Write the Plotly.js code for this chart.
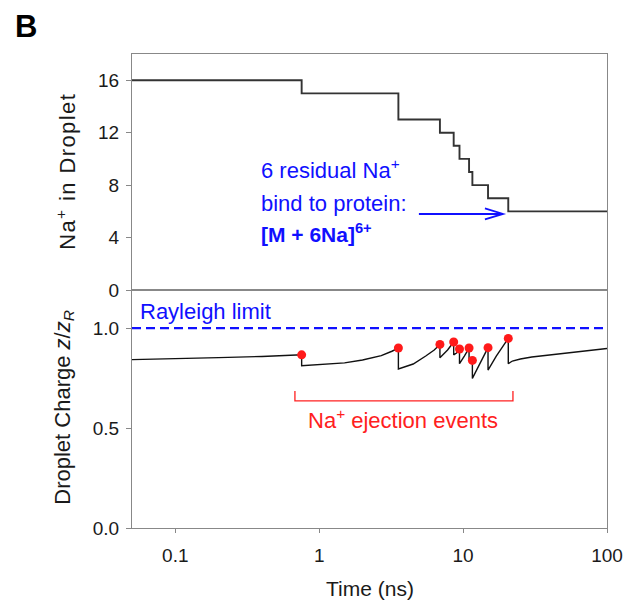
<!DOCTYPE html>
<html>
<head>
<meta charset="utf-8">
<script src="https://cdn.plot.ly/plotly-3.0.1.min.js"></script>
<style>html,body{margin:0;padding:0;background:#fff;}#chart{width:626px;height:602px;}</style>
</head>
<body>
<div id="chart"></div>
<script>
// Top panel: Na+ count in droplet (step function)
const stepTimes = [0.05, 0.755, 3.55, 6.9, 8.6, 9.44, 11.0, 11.6, 14.9, 20.6, 100];
const naCounts  = [16, 15, 13, 12, 11, 10, 9, 8, 7, 6, 6];

// Bottom panel: droplet charge z/zR
const chargeTimes = [0.05, 0.1, 0.2, 0.4, 0.755, 0.755, 1.0, 1.5, 2.0, 2.7, 3.2, 3.55, 3.55, 4.5, 5.5, 6.3, 6.9, 6.9, 7.8, 8.6, 8.6, 9.0, 9.44, 9.44, 10.2, 11.0, 11.0, 11.6, 11.6, 13.0, 14.9, 14.9, 17.0, 20.6, 20.6, 22, 25, 30, 40, 60, 80, 100];
const chargeVals  = [0.842, 0.846, 0.852, 0.858, 0.866, 0.812, 0.817, 0.826, 0.840, 0.862, 0.884, 0.900, 0.795, 0.820, 0.860, 0.890, 0.918, 0.851, 0.890, 0.930, 0.866, 0.875, 0.895, 0.822, 0.860, 0.900, 0.845, 0.838, 0.748, 0.820, 0.902, 0.790, 0.860, 0.948, 0.822, 0.835, 0.845, 0.855, 0.866, 0.880, 0.890, 0.898];

// Na+ ejection events (red dots)
const eventTimes = [0.755, 3.55, 6.9, 8.6, 9.44, 11.0, 11.6, 14.9, 20.6];
const eventVals  = [0.866, 0.900, 0.918, 0.930, 0.895, 0.900, 0.838, 0.902, 0.948];

// Rayleigh limit
const rayleighX = [0.05, 100];
const rayleighY = [1.0, 1.0];

const xTickVals = [0.1, 1, 10, 100];
const xTickText = ['0.1', '1', '10', '100'];
const topTicks = [0, 4, 8, 12, 16];
const botTicks = [0, 0.5, 1.0];

const FONT = 'Liberation Sans, Arial, sans-serif';
const BLUE = '#1010ff';
const RED = '#ff2020';
const TXT = '#1a1a1a';

const traces = [
  {x: stepTimes, y: naCounts, xaxis: 'x2', yaxis: 'y2', mode: 'lines', line: {shape: 'hv', color: '#333', width: 1.9}},
  {x: rayleighX, y: rayleighY, xaxis: 'x', yaxis: 'y', mode: 'lines', line: {color: BLUE, width: 2.2, dash: '9px,5px'}},
  {x: chargeTimes, y: chargeVals, xaxis: 'x', yaxis: 'y', mode: 'lines', line: {color: '#111', width: 1.4}},
  {x: eventTimes, y: eventVals, xaxis: 'x', yaxis: 'y', mode: 'markers', marker: {color: '#ff1a1a', size: 9}}
];

const axisCommon = {
  showline: true, linecolor: '#888', linewidth: 1, mirror: true,
  showgrid: false, zeroline: false, ticks: 'outside', ticklen: 5, tickcolor: '#888',
  tickfont: {family: FONT, size: 19, color: TXT}
};

const xr = [Math.log10(0.05), 2];

const layout = {
  width: 626, height: 602,
  margin: {l: 132, r: 19, t: 54, b: 74},
  paper_bgcolor: '#fff', plot_bgcolor: '#fff',
  showlegend: false,
  font: {family: FONT, color: TXT},
  xaxis: Object.assign({}, axisCommon, {type: 'log', range: xr, anchor: 'y', tickvals: xTickVals, ticktext: xTickText, ticklen: 4, ticklabelstandoff: 6}),
  xaxis2: Object.assign({}, axisCommon, {type: 'log', range: xr, anchor: 'y2', matches: 'x', showticklabels: false, ticks: ''}),
  yaxis: Object.assign({}, axisCommon, {domain: [0, 0.502], range: [0, 1.19], tickvals: botTicks, tickformat: '.1f', anchor: 'x', ticklabelstandoff: 3}),
  yaxis2: Object.assign({}, axisCommon, {domain: [0.502, 1], range: [0, 18], tickvals: topTicks, anchor: 'x2', ticklabelstandoff: 3}),
  annotations: [
    {text: '<b>B</b>', xref: 'paper', yref: 'paper', x: -0.2505, y: 1.059, xanchor: 'left', yanchor: 'middle', showarrow: false, font: {family: FONT, size: 31, color: '#000'}},
    {text: 'Na<sup>+</sup> in Droplet', xref: 'paper', yref: 'paper', x: -0.139, y: 0.753, xanchor: 'center', yanchor: 'middle', textangle: -90, showarrow: false, font: {family: FONT, size: 22, color: TXT}},
    {text: 'Droplet Charge <i>z</i>/<i>z</i><sub><i>R</i></sub>', xref: 'paper', yref: 'paper', x: -0.145, y: 0.254, xanchor: 'center', yanchor: 'middle', textangle: -90, showarrow: false, font: {family: FONT, size: 22, color: TXT}},
    {text: 'Time (ns)', xref: 'paper', yref: 'paper', x: 0.5, y: -0.1266, xanchor: 'center', yanchor: 'middle', showarrow: false, font: {family: FONT, size: 21, color: TXT}},
    {text: '6 residual Na<sup>+</sup>', xref: 'paper', yref: 'paper', x: 0.267, y: 0.757, xanchor: 'left', yanchor: 'middle', showarrow: false, font: {family: FONT, size: 22, color: BLUE}},
    {text: 'bind to protein:', xref: 'paper', yref: 'paper', x: 0.267, y: 0.684, xanchor: 'left', yanchor: 'middle', showarrow: false, font: {family: FONT, size: 22, color: BLUE}},
    {text: '<b>[M + 6Na]<sup>6+</sup></b>', xref: 'paper', yref: 'paper', x: 0.267, y: 0.622, xanchor: 'left', yanchor: 'middle', showarrow: false, font: {family: FONT, size: 21, color: BLUE}},
    {text: 'Rayleigh limit', xref: 'paper', yref: 'paper', x: 0.0126, y: 0.456, xanchor: 'left', yanchor: 'middle', showarrow: false, font: {family: FONT, size: 22, color: BLUE}},
    {text: 'Na<sup>+</sup> ejection events', xref: 'paper', yref: 'paper', x: 0.571, y: 0.230, xanchor: 'center', yanchor: 'middle', showarrow: false, font: {family: FONT, size: 22, color: RED}}
  ],
  shapes: [
    // blue arrow
    {type: 'path', xref: 'paper', yref: 'paper', path: 'M 0.604 0.6625 L 0.781 0.6625 M 0.743 0.6741 L 0.781 0.6625 L 0.743 0.6509', line: {color: BLUE, width: 1.8}},
    // red bracket
    {type: 'path', xref: 'paper', yref: 'paper', path: 'M 0.343 0.289 L 0.343 0.268 L 0.802 0.268 L 0.802 0.289', line: {color: RED, width: 1.3}}
  ]
};

Plotly.newPlot('chart', traces, layout, {displayModeBar: false, staticPlot: true}).then(function () {
  document.querySelectorAll('.annotation-text').forEach(function (t) {
    if (t.textContent.indexOf('in Droplet') >= 0) t.style.letterSpacing = '1.4px';
  });
});
</script>
</body>
</html>
